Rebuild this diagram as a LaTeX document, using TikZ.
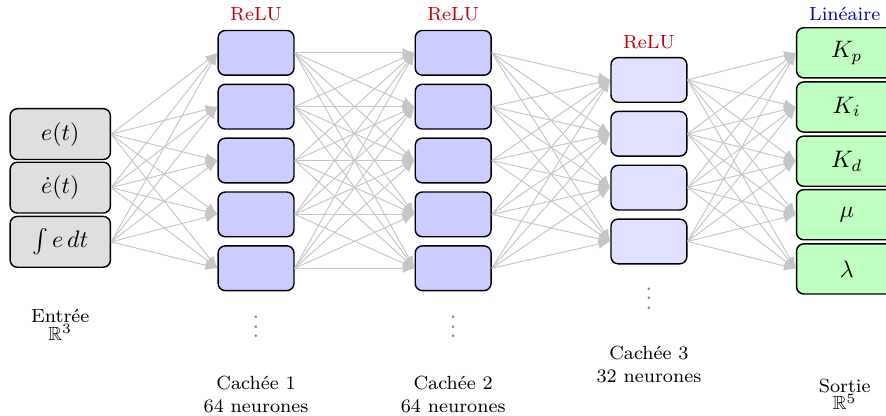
\documentclass[tikz,border=0pt]{standalone}
\usepackage{amssymb}
\usepackage[dvipsnames]{xcolor}
\usepackage{tikz}
\usetikzlibrary{arrows.meta}

\begin{document}
\begin{tikzpicture}[line width=.6pt,
    neuron/.style={draw, rounded corners=3pt, minimum width=1.12cm, minimum height=.66cm},
    entree/.style={neuron, fill=gray!25, minimum width=1.48cm, minimum height=.75cm},
    cachee/.style={neuron, fill=blue!20},
    cacheeb/.style={neuron, fill=blue!12},
    sortie/.style={neuron, fill=green!25, minimum width=1.48cm, minimum height=.74cm},
    conn/.style={gray!45, line width=.4pt, -{Latex[length=5pt,width=4pt]}},
    actlbl/.style={font=\footnotesize, inner sep=1pt},
    couche/.style={font=\footnotesize, align=center, inner sep=1pt},
    pts/.style={gray, inner sep=0pt}]
  \useasboundingbox (0,0) rectangle (13.08,-6.13);

  % entrees
  \node[entree] (x1) at (0.89,-1.98) {$e(t)$};
  \node[entree] (x2) at (0.89,-2.77) {$\dot e(t)$};
  \node[entree] (x3) at (0.89,-3.57) {$\int e\,dt$};

  % couches cachees
  \foreach \i in {1,...,5}{
    \node[cachee] (a\i) at (3.78,{-0.78-(\i-1)*0.795}) {};
    \node[cachee] (b\i) at (6.69,{-0.78-(\i-1)*0.795}) {};
  }
  \foreach \i in {1,...,4}
    \node[cacheeb] (c\i) at (9.58,{-1.18-(\i-1)*0.795}) {};

  % sorties
  \node[sortie] (y1) at (12.50,-0.78) {$K_p$};
  \node[sortie] (y2) at (12.50,-1.58) {$K_i$};
  \node[sortie] (y3) at (12.50,-2.38) {$K_d$};
  \node[sortie] (y4) at (12.50,-3.17) {$\mu$};
  \node[sortie] (y5) at (12.50,-3.97) {$\lambda$};

  % connexions
  \foreach \i in {1,2,3}
    \foreach \j in {1,...,5}
      \draw[conn] (x\i.east) -- (a\j.west);
  \foreach \i in {1,...,5}
    \foreach \j in {1,...,5}
      \draw[conn] (a\i.east) -- (b\j.west);
  \foreach \i in {1,...,5}
    \foreach \j in {1,...,4}
      \draw[conn] (b\i.east) -- (c\j.west);
  \foreach \i in {1,...,4}
    \foreach \j in {1,...,5}
      \draw[conn] (c\i.east) -- (y\j.west);

  % activations
  \node[actlbl, text=red!75!black] (fa) at (3.78,-0.21) {ReLU};
  \node[actlbl, text=red!75!black] (fb) at (6.69,-0.21) {ReLU};
  \node[actlbl, text=red!75!black] (fc) at (9.58,-0.62) {ReLU};
  \node[actlbl, text=blue!75!black] (fy) at (12.47,-0.21) {Linéaire};

  \node[pts] (da) at (3.78,-4.72) {$\vdots$};
  \node[pts] (db) at (6.69,-4.72) {$\vdots$};
  \node[pts] (dc) at (9.58,-4.30) {$\vdots$};

  % noms des couches
  \node[couche] (la) at (0.89,-4.80) {Entrée\\[-2pt]$\mathbb{R}^3$};
  \node[couche] (lb) at (3.78,-5.82) {Cachée 1\\64 neurones};
  \node[couche] (lc) at (6.69,-5.82) {Cachée 2\\64 neurones};
  \node[couche] (ld) at (9.58,-5.38) {Cachée 3\\32 neurones};
  \node[couche] (le) at (12.47,-5.82) {Sortie\\[-2pt]$\mathbb{R}^5$};
\end{tikzpicture}
\end{document}
